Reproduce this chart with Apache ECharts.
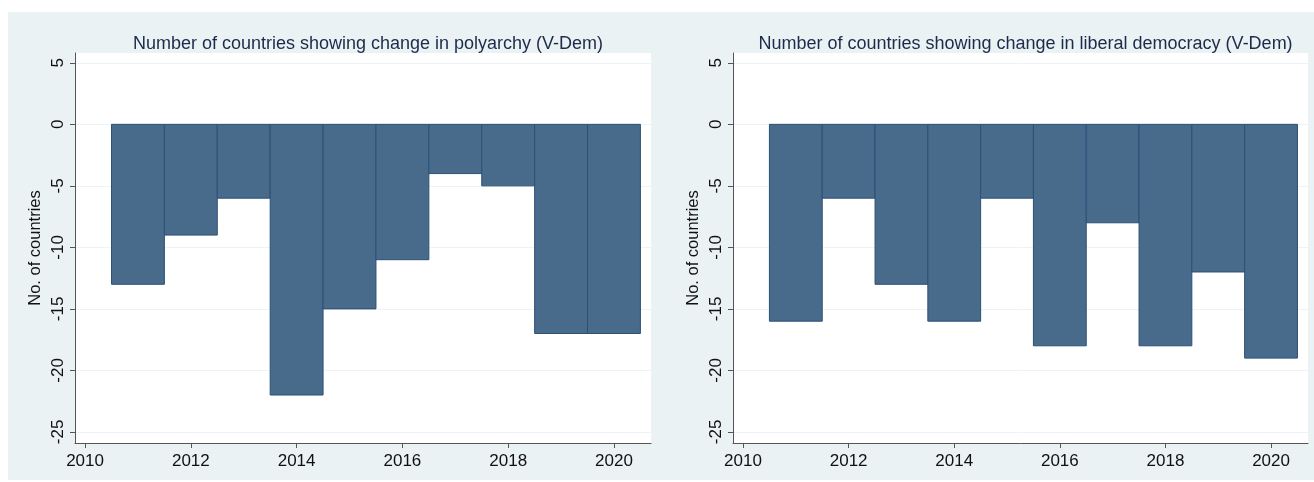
<!DOCTYPE html>
<html><head><meta charset="utf-8">
<script src="https://cdn.jsdelivr.net/npm/echarts@6/dist/echarts.min.js"></script>
<style>html,body{margin:0;padding:0;background:#fff}#c{width:1314px;height:482px}</style>
</head><body><div id="c"></div>
<script>
const years = [2011, 2012, 2013, 2014, 2015, 2016, 2017, 2018, 2019, 2020];
const polyarchy = [-13, -9, -6, -22, -15, -11, -4, -5, -17, -17];
const liberal = [-16, -6, -13, -16, -6, -18, -8, -18, -12, -19];
const yTicks = [-25, -20, -15, -10, -5, 0, 5];
const xTicks = [2010, 2012, 2014, 2016, 2018, 2020];
const titles = ['Number of countries showing change in polyarchy (V-Dem)', 'Number of countries showing change in liberal democracy (V-Dem)'];
const yName = 'No. of countries';

const chart = echarts.init(document.getElementById('c'), null, {renderer: 'canvas'});
const font = 'Liberation Sans, Arial, Helvetica, sans-serif';
const grids = [{left: 75, width: 576, top: 53, height: 390}, {left: 733, width: 575, top: 53, height: 390}];
function renderBar(params, api) {
  const x = api.value(0), v = api.value(1);
  const p0 = api.coord([x - 0.5, 0]);
  const p1 = api.coord([x + 0.5, v]);
  return {type: 'rect', shape: {x: p0[0], y: Math.min(p0[1], p1[1]), width: p1[0] - p0[0], height: Math.abs(p1[1] - p0[1])},
    style: {fill: '#486a8b', stroke: '#2c5176', lineWidth: 1}};
}
const opt = {
  animation: false,
  graphic: [{type: 'rect', shape: {x: 8, y: 12, width: 1306, height: 468}, style: {fill: '#eaf2f3'}, z: -10, silent: true}],
  title: titles.map((t, i) => ({text: t, left: grids[i].left + grids[i].width / 2, top: 30, textAlign: 'center',
    textStyle: {fontFamily: font, fontSize: 18, fontWeight: 'normal', color: '#1c2b4b'}})),
  grid: grids.map(g => Object.assign({show: true, backgroundColor: '#fff', borderWidth: 0}, g)),
  xAxis: grids.map((g, i) => ({type: 'value', gridIndex: i, min: 2009.81, max: 2020.7,
    axisLine: {show: true, onZero: false, lineStyle: {color: '#555', width: 1}},
    axisTick: {show: true, length: 5, lineStyle: {color: '#555'}, customValues: xTicks},
    axisLabel: {customValues: xTicks, formatter: v => String(v), fontFamily: font, fontSize: 17, color: '#111', margin: 10},
    splitLine: {show: false}})),
  yAxis: grids.map((g, i) => ({type: 'value', gridIndex: i, min: -25.9, max: 5.8,
    name: yName, nameLocation: 'middle', nameGap: 31, nameRotate: 90,
    nameTextStyle: {fontFamily: font, fontSize: 16.5, color: '#111'},
    axisLine: {show: true, onZero: false, lineStyle: {color: '#555', width: 1}},
    axisTick: {show: true, length: 5, lineStyle: {color: '#555'}, customValues: yTicks},
    axisLabel: {customValues: yTicks, rotate: 90, fontFamily: font, fontSize: 17, color: '#111', margin: 8},
    splitLine: {show: true, lineStyle: {color: '#eef4f6', width: 1}}})),
  series: [polyarchy, liberal].map((d, i) => ({type: 'custom', xAxisIndex: i, yAxisIndex: i,
    data: years.map((y, k) => [y, d[k]]), renderItem: renderBar, encode: {x: 0, y: 1}}))
};
chart.setOption(opt);
</script></body></html>
